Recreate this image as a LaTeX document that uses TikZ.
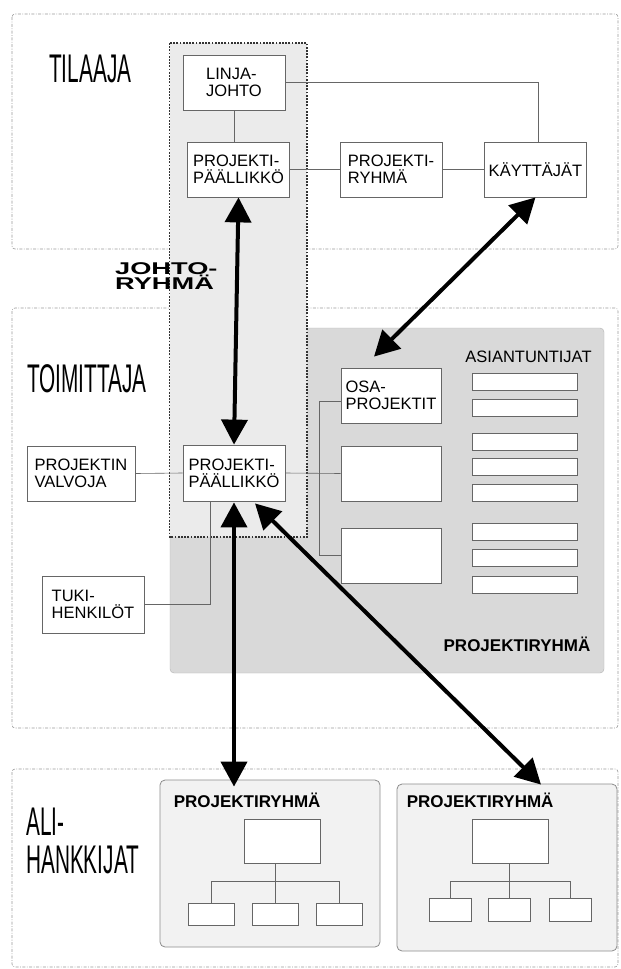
\documentclass[tikz,border=0pt]{standalone}
\usepackage{fontspec}
\setmainfont{Liberation Sans}
\newfontfamily\narrowfont[FakeStretch=0.52]{Liberation Sans}
\newfontfamily\widefont[FakeStretch=1.6]{Liberation Sans}
\usetikzlibrary{arrows.meta,positioning,calc}

\begin{document}
\begin{tikzpicture}[x=1pt, y=-1pt, font=\fontsize{16.5}{17}\selectfont]
    \tikzset{
        region/.style={draw=black!40, line width=0.6pt, dash pattern=on 3pt off 1.5pt on 0.8pt off 1.5pt, rounded corners=3pt},
        box/.style={draw=black!60, fill=white, line width=0.8pt, minimum width=102pt, minimum height=55pt, inner sep=0pt, align=left},
        slot/.style={draw=black!60, fill=white, line width=0.8pt, minimum width=105pt, minimum height=17pt, inner sep=0pt},
        unit/.style={draw=black!60, fill=white, line width=0.8pt, minimum width=46pt, minimum height=22pt, inner sep=0pt},
        team/.style={draw=black!45, fill=black!5, line width=0.8pt, rounded corners=5pt, minimum width=220pt, minimum height=167pt, inner sep=0pt},
        link/.style={draw=black!60, line width=0.6pt},
        flow/.style={line width=4pt, >={Triangle[width=26pt,length=25pt]}, <->},
        bigtext/.style={font=\narrowfont\fontsize{40}{38}\selectfont, inner sep=0pt, align=left},
        grouptext/.style={font=\bfseries\fontsize{17}{15}\selectfont, inner sep=0pt}
    }
    \useasboundingbox (0,0) rectangle (621,969);

    % Regions
    \draw[region] (12,14) rectangle (618,249);
    \draw[region] (12,308) rectangle (618,728);
    \draw[region] (12,769) rectangle (618,967);

    % Project group of the supplier
    \fill[black!15, draw=black!30, rounded corners=4pt] (170,328) rectangle (604,673);
    % Steering group
    \draw[fill=black!8, draw=black!80, line width=1.8pt, dash pattern=on 1.8pt off 1.4pt] (169.5,43) rectangle (307,537);

    % Region labels
    \node[bigtext, anchor=west] (tilaaja) at (49,68.5) {TILAAJA};
    \node[bigtext, anchor=west] (toimittaja) at (27,379) {TOIMITTAJA};
    \node[bigtext, anchor=west] (ali) at (26,840.5) {ALI-\\HANKKIJAT};
    \node[font=\widefont\bfseries\fontsize{17}{14.5}\selectfont, anchor=west, align=left, inner sep=0pt] (johto) at (115,276) {JOHTO-\\RYHMÄ};

    % Customer
    \node[box] (lj) at (234,82.5) {LINJA-\\JOHTO};
    \node[box] (ppT) at (238.5,169.5) {PROJEKTI-\\PÄÄLLIKKÖ};
    \node[box] (pr) at (391,169.5) {PROJEKTI-\\RYHMÄ};
    \node[box] (kay) at (535.5,169.5) {KÄYTTÄJÄT};
    \draw[link] (lj.south) -- (lj.south |- ppT.north);
    \draw[link] (ppT.east) -- (pr.west);
    \draw[link] (pr.east) -- (kay.west);
    \draw[link] (lj.east) -| ([xshift=2.5pt]kay.north);

    % Supplier
    \node[box, minimum width=108pt] (valv) at (81,473.5) {PROJEKTIN\\VALVOJA};
    \node[box, minimum height=56pt] (ppL) at (234,473) {PROJEKTI-\\PÄÄLLIKKÖ};
    \node[box, minimum height=57pt] (tuki) at (93,604.5) {TUKI-\\HENKILÖT};
    \node[box, minimum width=100pt] (osa) at (391,395.5) {OSA-\\PROJEKTIT};
    \node[box, minimum width=100pt] (opb) at (391,473.5) {};
    \node[box, minimum width=100pt] (opc) at (391,555.5) {};
    \node (asi) at (528.5,356.5) {ASIANTUNTIJAT};
    \foreach \i/\y in {1/381.5, 2/407.5, 3/441.5, 4/466.5, 5/492.5, 6/531.5, 7/557.5, 8/584.5} {
            \node[slot] (e\i) at (524.5,\y) {};
        }
    \node[grouptext] (prS) at (517,644) {PROJEKTIRYHMÄ};
    \draw[link] (valv.east) -- (ppL.west);
    \draw[link] (ppL.east) -- (opb.west);
    \draw[link] ([yshift=-5.5pt]osa.west) -- ++(-21,0) |- (opc.west);
    \draw[link] (tuki.east) -| ([xshift=-24pt]ppL.south);

    % Subcontractors
    \node[team] (g1) at (270,863.5) {};
    \node[team] (g2) at (507,867.5) {};
    \node[grouptext, anchor=north west] (lab1) at ([xshift=14pt,yshift=-13pt]g1.north west) {PROJEKTIRYHMÄ};
    \node[grouptext, anchor=north west] (lab2) at ([xshift=10pt,yshift=-9pt]g2.north west) {PROJEKTIRYHMÄ};
    \node[box, minimum width=76pt, minimum height=44pt] (t1) at (282,841) {};
    \node[box, minimum width=76pt, minimum height=44pt] (t2) at (510,841) {};
    \foreach \i/\x in {1/211.5, 2/275.5, 3/339} {
            \node[unit] (s1\i) at (\x,914) {};
        }
    \foreach \i/\x in {1/450, 2/509.5, 3/570.5} {
            \node[unit, minimum width=42pt, minimum height=23pt] (s2\i) at (\x,909.5) {};
        }
    \coordinate (j1) at (276,881);
    \coordinate (j2) at (511,881);
    \draw[link] (s12.north) -- (s12.north |- t1.south);
    \draw[link] (s11.north) |- (j1) -| (s13.north);
    \draw[link] (s22.north) -- (s22.north |- t2.south);
    \draw[link] (s21.north) |- (j2) -| (s23.north);

    % Arrows
    \draw[flow] (ppT.south) -- (ppL.north);
    \draw[flow] (kay.south) -- ([xshift=-17pt,yshift=11pt]osa.north);
    \draw[flow] ([yshift=-1pt]ppL.south) -- ([yshift=-7pt]ppL.south |- g1.north);
    \draw[flow] ([xshift=21pt,yshift=-2pt]ppL.south) -- ([xshift=34pt,yshift=-1pt]g2.north);

\end{tikzpicture}
\end{document}
